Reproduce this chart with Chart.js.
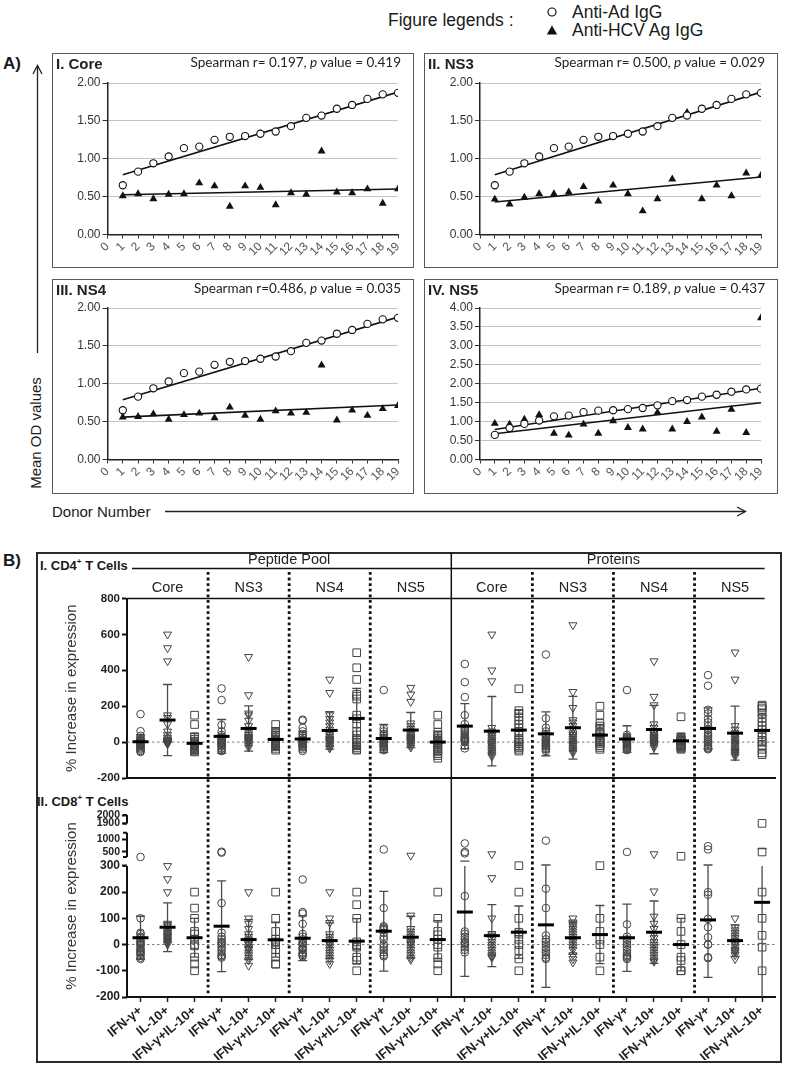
<!DOCTYPE html>
<html>
<head>
<meta charset="utf-8">
<title>Anti-Ad / anti-HCV IgG and T cell responses</title>
<script src="https://cdn.jsdelivr.net/npm/chart.js@4.4.1/dist/chart.umd.min.js"></script>
<style>
  body { margin: 0; background: #fff; }
  #page { position: relative; width: 786px; height: 1067px; overflow: hidden;
          font-family: "Liberation Sans", Arial, sans-serif; color: #1a1a1a; }
  #page canvas { position: absolute; }
  .t { position: absolute; white-space: nowrap; line-height: 1; transform: translateY(-50%); }
  .frame { position: absolute; box-sizing: border-box; border: 1.5px solid #5a5a5a; }
  .spr { font-family: Lato, "Open Sans", sans-serif; font-size: 13.5px; color: #222; }
  .ptl { font-weight: bold; font-size: 15px; color: #222; }
</style>
</head>
<body>
<div id="page">
  <svg width="786" height="1067" style="position:absolute;left:0;top:0">
    <circle cx="552" cy="12" r="4" fill="none" stroke="#111" stroke-width="1.2"/>
    <polygon points="552,25.5 546.8,34.5 557.2,34.5" fill="#111"/>
    <line x1="37.5" y1="353" x2="37.5" y2="66" stroke="#222" stroke-width="1.3"/>
    <polyline points="33,74 37.5,65.5 42,74" fill="none" stroke="#222" stroke-width="1.3"/>
    <line x1="165" y1="511.5" x2="745" y2="511.5" stroke="#222" stroke-width="1.3"/>
    <polyline points="737,507 745.5,511.5 737,516" fill="none" stroke="#222" stroke-width="1.3"/>
  </svg>

  <div class="t" style="left:388px;top:21px;font-size:17.5px">Figure legends :</div>
  <div class="t" style="left:572px;top:13px;font-size:17.5px">Anti-Ad IgG</div>
  <div class="t" style="left:572px;top:31px;font-size:17.5px">Anti-HCV Ag IgG</div>
  <div class="t" style="left:3px;top:63px;font-size:17px;font-weight:bold">A)</div>
  <div class="t" style="left:35px;top:433px;font-size:15px;transform:translate(-50%,-50%) rotate(-90deg)">Mean OD values</div>
  <div class="t" style="left:52px;top:511px;font-size:15px">Donor Number</div>

  <div class="t" style="left:3px;top:560px;font-size:17px;font-weight:bold">B)</div>
  <div class="frame" style="left:36px;top:552px;width:746px;height:511px;border:2px solid #2a2a2a"></div>
  <div class="t" style="left:40px;top:565px;font-size:13px;font-weight:bold">I. CD4<sup style="font-size:8px">+</sup> T Cells</div>
  <div class="t" style="left:37px;top:801px;font-size:13px;font-weight:bold">II. CD8<sup style="font-size:8px">+</sup> T Cells</div>

  <div id="panelA"></div>
  <canvas id="chartCd4" width="723" height="248" style="left:59px;top:552px"></canvas>
  <canvas id="chartCd8" width="723" height="260" style="left:59px;top:800px"></canvas>
</div>

<script>
// ---------- A) mean OD values per donor ----------
const donors = [1, 2, 3, 4, 5, 6, 7, 8, 9, 10, 11, 12, 13, 14, 15, 16, 17, 18, 19];
const donorTicks = [0, 1, 2, 3, 4, 5, 6, 7, 8, 9, 10, 11, 12, 13, 14, 15, 16, 17, 18, 19];
const adIgG = [0.65, 0.83, 0.94, 1.03, 1.14, 1.16, 1.25, 1.29, 1.30, 1.33, 1.36, 1.43, 1.54, 1.57, 1.66, 1.71, 1.79, 1.85, 1.87];
const hcvCore = [0.51, 0.535, 0.47, 0.53, 0.535, 0.68, 0.64, 0.37, 0.64, 0.62, 0.39, 0.55, 0.53, 1.10, 0.56, 0.55, 0.60, 0.41, 0.60];
const hcvNs3 = [0.465, 0.40, 0.49, 0.535, 0.535, 0.56, 0.63, 0.44, 0.65, 0.535, 0.31, 0.47, 0.73, 1.61, 0.47, 0.65, 0.51, 0.81, 0.78];
const hcvNs4 = [0.56, 0.565, 0.60, 0.53, 0.59, 0.61, 0.55, 0.69, 0.58, 0.53, 0.64, 0.61, 0.62, 1.245, 0.52, 0.65, 0.58, 0.67, 0.71];
const hcvNs5 = [0.95, 0.93, 1.06, 1.18, 0.69, 0.64, 0.93, 0.69, 1.02, 0.84, 0.80, 1.24, 0.80, 1.00, 1.12, 0.74, 1.32, 0.71, 3.74];
// trend line ends (donor 1, donor 19)
const adTrend = [0.79, 1.88];
const coreTrend = [0.525, 0.60];
const ns3Trend = [0.43, 0.76];
const ns4Trend = [0.56, 0.72];
const ns5Trend = [0.68, 1.50];
const odTitles = ['I. Core', 'II. NS3', 'III. NS4', 'IV. NS5'];
const spearmanR = ['r= 0.197', 'r= 0.500', 'r=0.486', 'r= 0.189'];
const spearmanP = ['0.419', '0.029', '0.035', '0.437'];
const odMax = [2, 2, 2, 4];

// ---------- B) % increase in expression ----------
const sources = ['Peptide Pool', 'Proteins'];
const antigens = ['Core', 'NS3', 'NS4', 'NS5'];
const cytokines = ['IFN-\u03b3+', 'IL-10+', 'IFN-\u03b3+IL-10+'];
const colTicks = [0, 1, 2, 3, 4, 5, 6, 7, 8, 9, 10, 11, 12, 13, 14, 15, 16, 17, 18, 19, 20, 21, 22, 23];
const cd4Ticks = [-200, 0, 200, 400, 600, 800];
const cd8Ticks = [-200, -100, 0, 100, 200, 300, 500, 1000, 1900, 2000];

// one list per antigen group (Core..NS5 peptide pool, then Core..NS5 proteins)
const cd4IfnPts = [
  [156, 61, 35, 25, 18, 12, 8, 5, 0, -3, -8, -12, -18, -22, -28, -35, -42, -50, -55],
  [299, 234, 95, 60, 40, 30, 20, 15, 10, 5, 0, -5, -10, -15, -20, -25, -35, -45, -50],
  [125, 120, 80, 60, 45, 35, 25, 15, 10, 5, 0, -5, -10, -15, -20, -25, -30, -40, -50],
  [290, 76, 60, 45, 35, 25, 20, 15, 10, 5, 0, -5, -10, -15, -20, -25, -30, -40, -45],
  [435, 334, 251, 150, 100, 80, 70, 60, 50, 40, 30, 25, 20, 15, 10, 5, 0, -20, -35],
  [488, 132, 80, 60, 45, 35, 25, 15, 10, 5, 0, -5, -10, -15, -20, -25, -35, -40, -50],
  [290, 40, 30, 25, 20, 15, 10, 5, 0, 0, -5, -10, -15, -20, -25, -30, -35, -40, -45],
  [373, 314, 180, 160, 130, 110, 90, 70, 50, 40, 30, 20, 10, 0, -10, -20, -30, -35, -40]
];
const cd4Il10Pts = [
  [600, 524, 451, 150, 135, 100, 60, 40, 25, 15, 10, 5, 5, 0, 0, -5, -5, -10, -10],
  [475, 262, 160, 150, 120, 90, 70, 50, 40, 30, 25, 20, 15, 10, 5, 0, -10, -20, -30],
  [349, 275, 150, 130, 110, 90, 70, 50, 40, 30, 20, 15, 10, 5, 0, -10, -20, -30, -35],
  [303, 266, 225, 105, 90, 75, 60, 50, 40, 30, 25, 20, 15, 10, 5, 0, -10, -20, -30],
  [600, 400, 340, 80, 60, 45, 35, 25, 15, 5, 0, -10, -20, -30, -40, -50, -60, -70, -80],
  [652, 280, 191, 123, 110, 90, 70, 50, 40, 30, 20, 10, 0, -10, -20, -30, -40, -50, -60],
  [451, 253, 206, 100, 80, 60, 50, 40, 30, 25, 20, 15, 10, 5, 0, -5, -10, -20, -30],
  [500, 349, 90, 70, 50, 40, 30, 20, 10, 0, -10, -20, -30, -40, -50, -55, -60, -70, -80]
];
const cd4BothPts = [
  [150, 98, 30, 15, 5, 0, -5, -10, -15, -20, -25, -30, -35, -40, -45, -50, -55],
  [98, 60, 50, 40, 30, 25, 15, 10, 5, 0, -5, -10, -15, -20, -25, -35, -45],
  [498, 414, 349, 267, 256, 240, 150, 130, 100, 60, 40, 20, 10, 0, -10, -20, -30, -40, -45],
  [150, 98, 55, 40, 30, 20, 10, 5, 0, -5, -10, -15, -25, -35, -45, -55, -65, -75, -90],
  [297, 175, 160, 140, 120, 100, 80, 60, 40, 20, 10, 0, -10, -20, -30, -40, -50],
  [200, 150, 104, 90, 70, 55, 45, 35, 25, 15, 10, 5, 0, -10, -20, -30, -40],
  [141, 30, 20, 15, 10, 5, 0, -5, -10, -15, -20, -25, -30, -35, -40],
  [206, 200, 190, 180, 160, 135, 110, 90, 70, 50, 30, 10, 0, -20, -40, -60, -70]
];
const cd4Mean = [2, 123, -7, 32, 76, 15, 17, 65, 132, 20, 67, 0, 89, 61, 67, 46, 80, 39, 17, 70, 7, 76, 50, 65];
const cd4Sd = [40, 198, 55, 94, 126, 45, 40, 104, 167, 78, 98, 60, 125, 193, 110, 122, 175, 60, 74, 135, 40, 115, 150, 85];

const cd8IfnPts = [
  [430, 100, 45, 40, 30, 25, 15, 10, 5, 0, -5, -15, -20, -25, -30, -35, -40, -50, -55],
  [510, 490, 158, 45, 30, 20, 10, 5, 0, -10, -20, -30, -40, -45, -50],
  [248, 124, 118, 79, 40, 30, 20, 10, 5, 0, -10, -15, -20, -30, -35, -40, -45],
  [600, 139, 70, 65, 60, 55, 45, 30, 20, 0, -10, -20, -30, -40, -45],
  [840, 500, 480, 185, 50, 41, 30, 20, 10, 5, 0, -10, -20, -30],
  [950, 213, 139, 35, 20, 10, 0, -10, -20, -30, -40, -50, -55],
  [500, 77, 30, 20, 10, 0, -10, -20, -30, -40, -45, -50, -55],
  [730, 600, 200, 190, 98, 66, 28, 0, 0, -48, -52]
];
const cd8Il10Pts = [
  [300, 250, 200, 80, 75, 70, 60, 50, 45, 40, 35, 30, 25, 20, 15, 10, 5, 0],
  [200, 100, 80, 60, 40, 30, 20, 10, 5, 0, -10, -15, -20, -30, -40, -50, -60, -80],
  [200, 100, 83, 40, 30, 20, 10, 5, 0, -10, -20, -30, -40, -50, -60, -74],
  [450, 111, 60, 50, 40, 30, 20, 10, 5, 0, -10, -20, -30, -40, -50, -58],
  [470, 254, 100, 41, 35, 20, 10, 0, -10, -20, -30, -40, -45, -50],
  [100, 85, 75, 70, 60, 50, 40, 30, 20, 10, 0, -10, -20, -40, -55, -68],
  [470, 203, 107, 80, 60, 40, 25, 10, 0, -10, -20, -30, -40, -50, -60, -65],
  [100, 66, 55, 45, 35, 25, 15, 5, 0, -10, -20, -25, -30, -40, -55]
];
const cd8BothPts = [
  [200, 139, 100, 50, 40, 20, 0, -5, -48, -74, -100],
  [200, 100, 50, 20, 10, 0, 0, -20, -48, -74, -75],
  [200, 152, 100, 10, 0, -5, -10, -48, -60, -100],
  [200, 100, 50, 37, 20, 0, -10, -50, -74, -100],
  [303, 200, 100, 47, 40, 20, 0, -23, -55, -100],
  [303, 100, 50, 20, 0, -48, -100],
  [440, 100, 50, 0, -48, -61, -100, -100],
  [1900, 500, 200, 100, 35, -10, -100]
];
const cd8Mean = [26, 66, 26, 70, 19, 18, 24, 15, 13, 51, 28, 19, 124, 34, 47, 75, 26, 38, 26, 47, 0, 94, 15, 161];
const cd8Sd = [82, 93, 74, 173, 76, 66, 85, 68, 86, 152, 80, 72, 245, 118, 100, 238, 63, 111, 128, 119, 100, 219, 60, 470];

Chart.defaults.font.family = '"Liberation Sans", Arial, sans-serif';
Chart.defaults.color = '#333';

// piecewise y axis for the CD8 plot (axis breaks above 300)
const brkIn = [300, 430, 500, 1000, 1370, 1900, 2000];
const brkOut = [300, 334, 353, 401, 426, 462, 494];
const squash = (v) => {
  if (v <= brkIn[0]) return v;
  for (let i = 1; i < brkIn.length; i++) {
    if (v <= brkIn[i] || i === brkIn.length - 1) {
      const f = (v - brkIn[i - 1]) / (brkIn[i] - brkIn[i - 1]);
      return brkOut[i - 1] + f * (brkOut[i] - brkOut[i - 1]);
    }
  }
};
class BrokenLinearScale extends Chart.LinearScale {
  determineDataLimits() { this.min = squash(this.options.min); this.max = squash(this.options.max); }
  buildTicks() { return cd8Ticks.map(v => ({ value: v })); }
  getPixelForValue(v) { return v === null ? NaN : super.getPixelForValue(squash(v)); }
}
BrokenLinearScale.id = 'brokenLinear';
BrokenLinearScale.defaults = Chart.LinearScale.defaults;
Chart.register(BrokenLinearScale);

let chartCore, chartNs3, chartNs4, chartNs5, chartCd4, chartCd8;

// ---- panel A ----
const odLayout = [
  { left: 52, top: 53, w: 362, h: 215, yw: 55.5, pt: 30, pr: 16, xh: 33.5 },
  { left: 424, top: 53, w: 354, h: 215, yw: 56, pt: 30, pr: 17, xh: 33.5 },
  { left: 52, top: 279, w: 362, h: 215, yw: 55.5, pt: 29, pr: 16, xh: 34.5 },
  { left: 424, top: 279, w: 354, h: 215, yw: 56, pt: 29, pr: 17, xh: 34.5 }
];

const initOdChart = (i, hcv, hcvTrend) => {
  const L = odLayout[i];
  const host = document.getElementById('panelA');
  host.insertAdjacentHTML('beforeend',
    `<div class="frame" style="left:${L.left}px;top:${L.top}px;width:${L.w}px;height:${L.h}px"></div>` +
    `<canvas id="od${i}" width="${L.w}" height="${L.h}" style="left:${L.left}px;top:${L.top}px"></canvas>` +
    `<div class="t ptl" style="left:${L.left + 4}px;top:${L.top + 10}px">${odTitles[i]}</div>` +
    `<div class="t spr" style="right:${786 - (L.left + L.w - 13)}px;top:${L.top + 10}px">Spearman ${spearmanR[i]}, <i>p</i> value = ${spearmanP[i]}</div>`);
  const first = donors[0], last = donors[donors.length - 1];
  const ctx = document.getElementById('od' + i).getContext('2d');
  return new Chart(ctx, {
    type: 'scatter',
    data: {
      datasets: [
        { data: donors.map((d, k) => ({ x: d, y: adIgG[k] })), pointStyle: 'circle', pointRadius: 3.6,
          backgroundColor: '#fff', borderColor: '#111', borderWidth: 1.1 },
        { data: donors.map((d, k) => ({ x: d, y: hcv[k] })), pointStyle: 'triangle', pointRadius: 4.6,
          backgroundColor: '#111', borderColor: '#111', borderWidth: 0 },
        { data: [{ x: first, y: adTrend[0] }, { x: last, y: adTrend[1] }], showLine: true, pointRadius: 0,
          borderColor: '#111', borderWidth: 1.6, order: 1 },
        { data: [{ x: first, y: hcvTrend[0] }, { x: last, y: hcvTrend[1] }], showLine: true, pointRadius: 0,
          borderColor: '#111', borderWidth: 1.6, order: 1 }
      ]
    },
    options: {
      responsive: false, animation: false, events: [],
      layout: { padding: { left: 0, top: L.pt, right: L.pr, bottom: 0 } },
      plugins: { legend: { display: false }, tooltip: { enabled: false } },
      scales: {
        x: {
          type: 'linear', min: 0, max: 19,
          afterBuildTicks: s => { s.ticks = donorTicks.map(v => ({ value: v })); },
          afterFit: s => { s.height = L.xh; },
          grid: { drawOnChartArea: false, tickLength: 4, tickColor: '#333' },
          border: { color: '#222', width: 1.5 },
          ticks: { minRotation: 45, maxRotation: 45, autoSkip: false, padding: 1, font: { size: 12 }, color: '#555' }
        },
        y: {
          min: 0, max: odMax[i],
          afterFit: s => { s.width = L.yw; },
          ticks: { stepSize: 0.5, callback: v => v.toFixed(2), font: { size: 12 }, color: '#333', padding: 2 },
          grid: { color: '#c4c4c4', tickLength: 5, tickColor: '#333' },
          border: { color: '#222', width: 1.5 }
        }
      }
    }
  });
};

// ---- panel B ----
const dotPlotDecor = {
  id: 'dotPlotDecor',
  beforeDatasetsDraw(chart, args, o) {
    const { ctx, chartArea: a, scales: { y } } = chart;
    const y0 = y.getPixelForValue(0);
    ctx.save();
    ctx.strokeStyle = '#777'; ctx.lineWidth = 1; ctx.setLineDash([2.5, 2.5]);
    ctx.beginPath(); ctx.moveTo(a.left, y0); ctx.lineTo(a.right, y0); ctx.stroke();
    ctx.restore();
  },
  afterDatasetsDraw(chart, args, o) {
    const { ctx, chartArea: a, scales: { x, y } } = chart;
    const yLow = -200;
    ctx.save();
    // mean +/- SD
    o.means.forEach((m, i) => {
      const px = x.getPixelForValue(colTicks[i]);
      const hi = m + o.sds[i], lo = m - o.sds[i];
      const lineTop = o.breakAt != null && hi > o.breakAt ? o.breakAt : hi;
      ctx.strokeStyle = '#4a4a4a'; ctx.lineWidth = 1.3;
      ctx.beginPath();
      ctx.moveTo(px, y.getPixelForValue(Math.max(lo, yLow)));
      ctx.lineTo(px, y.getPixelForValue(lineTop));
      [hi, lo].forEach(v => {
        if (v < yLow) return;
        const py = y.getPixelForValue(v);
        ctx.moveTo(px - 4.5, py); ctx.lineTo(px + 4.5, py);
      });
      ctx.stroke();
      const pm = y.getPixelForValue(m);
      ctx.strokeStyle = '#000'; ctx.lineWidth = 3;
      ctx.beginPath(); ctx.moveTo(px - 8, pm); ctx.lineTo(px + 8, pm); ctx.stroke();
    });
    // group dividers
    const per = cytokines.length;
    for (let g = 1; g < sources.length * antigens.length; g++) {
      const px = x.getPixelForValue(g * per - 0.5);
      const solid = g % antigens.length === 0;
      ctx.strokeStyle = '#111';
      ctx.lineWidth = solid ? 1.5 : 2.8;
      ctx.setLineDash(solid ? [] : [2.8, 2.8]);
      ctx.beginPath();
      ctx.moveTo(px, solid ? 0 : (o.header ? a.top - 26.5 : 0));
      ctx.lineTo(px, o.header ? chart.height : a.bottom);
      ctx.stroke();
    }
    ctx.setLineDash([]);
    if (o.header) {
      ctx.strokeStyle = '#111'; ctx.lineWidth = 1.5;
      ctx.beginPath();
      ctx.moveTo(a.left, a.top); ctx.lineTo(a.right - 11, a.top);
      ctx.moveTo(a.left + 5, a.top - 30); ctx.lineTo(a.right - 11, a.top - 30);
      ctx.stroke();
      ctx.fillStyle = '#222'; ctx.textAlign = 'center'; ctx.textBaseline = 'middle';
      ctx.font = '14.5px "Liberation Sans", Arial, sans-serif';
      sources.forEach((s, si) => {
        const mid = (si * antigens.length + antigens.length / 2) * per - 0.5;
        ctx.fillText(s, x.getPixelForValue(mid), a.top - 39);
        antigens.forEach((ag, gi) => {
          const c = (si * antigens.length + gi) * per + 1;
          ctx.fillText(ag, x.getPixelForValue(c), a.top - 11);
        });
      });
    }
    // broken axis line
    if (o.axisSegments) {
      ctx.strokeStyle = '#111'; ctx.lineWidth = 2;
      o.axisSegments.forEach(([s0, s1]) => {
        const p0 = y.getPixelForValue(s0), p1 = y.getPixelForValue(s1);
        ctx.beginPath(); ctx.moveTo(a.left, p0); ctx.lineTo(a.left, p1);
        if (s0 > -200) { ctx.moveTo(a.left - 4, p0); ctx.lineTo(a.left, p0); }
        ctx.moveTo(a.left - 4, p1); ctx.lineTo(a.left, p1);
        ctx.stroke();
      });
    }
    ctx.restore();
  }
};

const pointSets = (ifn, il10, both) => {
  const styles = [
    { pointStyle: 'circle', pointRadius: 3.8, pointRotation: 0 },
    { pointStyle: 'triangle', pointRadius: 4.6, pointRotation: 180 },
    { pointStyle: 'rect', pointRadius: 5.4, pointRotation: 0 }
  ];
  return [ifn, il10, both].map((groups, k) => ({
    data: groups.flatMap((vals, g) => vals.map(v => ({ x: colTicks[g * cytokines.length + k], y: v }))),
    backgroundColor: 'rgba(255,255,255,0)', borderColor: '#444', borderWidth: 1,
    ...styles[k]
  }));
};

const dotPlotOptions = (yScale, xh, padTop, decor, showLabels) => ({
  responsive: false, animation: false, events: [],
  layout: { padding: { left: 0, top: padTop, right: 2.5, bottom: 0 } },
  plugins: { legend: { display: false }, tooltip: { enabled: false }, dotPlotDecor: decor },
  scales: {
    x: {
      type: 'linear', min: -0.5, max: 23.5,
      afterBuildTicks: s => { s.ticks = colTicks.map(v => ({ value: v })); },
      afterFit: s => { s.height = xh; },
      grid: { display: showLabels, drawOnChartArea: false, tickLength: 5, tickColor: '#222', tickWidth: 1.5 },
      border: { color: '#111', width: 2 },
      ticks: {
        display: showLabels, autoSkip: false, minRotation: 40, maxRotation: 40, padding: 1,
        font: { size: 13, weight: 'bold' }, color: '#222',
        callback: v => cytokines[v % cytokines.length]
      }
    },
    y: yScale
  }
});

const initCd4Chart = () => {
  const ctx = document.getElementById('chartCd4').getContext('2d');
  chartCd4 = new Chart(ctx, {
    type: 'scatter',
    data: { datasets: pointSets(cd4IfnPts, cd4Il10Pts, cd4BothPts) },
    options: dotPlotOptions({
      min: -200, max: 800,
      afterBuildTicks: s => { s.ticks = cd4Ticks.map(v => ({ value: v })); },
      afterFit: s => { s.width = 68; },
      ticks: { font: { size: 11.5, weight: 'bold' }, color: '#222', padding: 2 },
      grid: { drawOnChartArea: false, tickLength: 5, tickColor: '#111', tickWidth: 2 },
      border: { color: '#111', width: 2 },
      title: { display: true, text: '% Increase in expression', font: { size: 15 }, color: '#333' }
    }, 22, 46.5, { means: cd4Mean, sds: cd4Sd, breakAt: null, header: true }, false),
    plugins: [dotPlotDecor]
  });
};

const initCd8Chart = () => {
  const ctx = document.getElementById('chartCd8').getContext('2d');
  chartCd8 = new Chart(ctx, {
    type: 'scatter',
    data: { datasets: pointSets(cd8IfnPts, cd8Il10Pts, cd8BothPts) },
    options: dotPlotOptions({
      type: 'brokenLinear', min: -200, max: 2000,
      afterFit: s => { s.width = 68; },
      ticks: {
        autoSkip: false, color: '#222', padding: 2, callback: v => String(v),
        font: c => ({ size: c.tick && c.tick.value > 300 ? 10.5 : 12, weight: 'bold' })
      },
      grid: { drawOnChartArea: false, tickLength: 5, tickColor: '#111', tickWidth: 2 },
      border: { display: false },
      title: { display: true, text: '% Increase in expression', font: { size: 15 }, color: '#333' }
    }, 63, 15, { means: cd8Mean, sds: cd8Sd, breakAt: 300, header: false,
                 axisSegments: [[-200, 300], [430, 1370], [1900, 2000]] }, true),
    plugins: [dotPlotDecor]
  });
};

chartCore = initOdChart(0, hcvCore, coreTrend);
chartNs3 = initOdChart(1, hcvNs3, ns3Trend);
chartNs4 = initOdChart(2, hcvNs4, ns4Trend);
chartNs5 = initOdChart(3, hcvNs5, ns5Trend);
initCd4Chart();
initCd8Chart();
</script>
</body>
</html>
